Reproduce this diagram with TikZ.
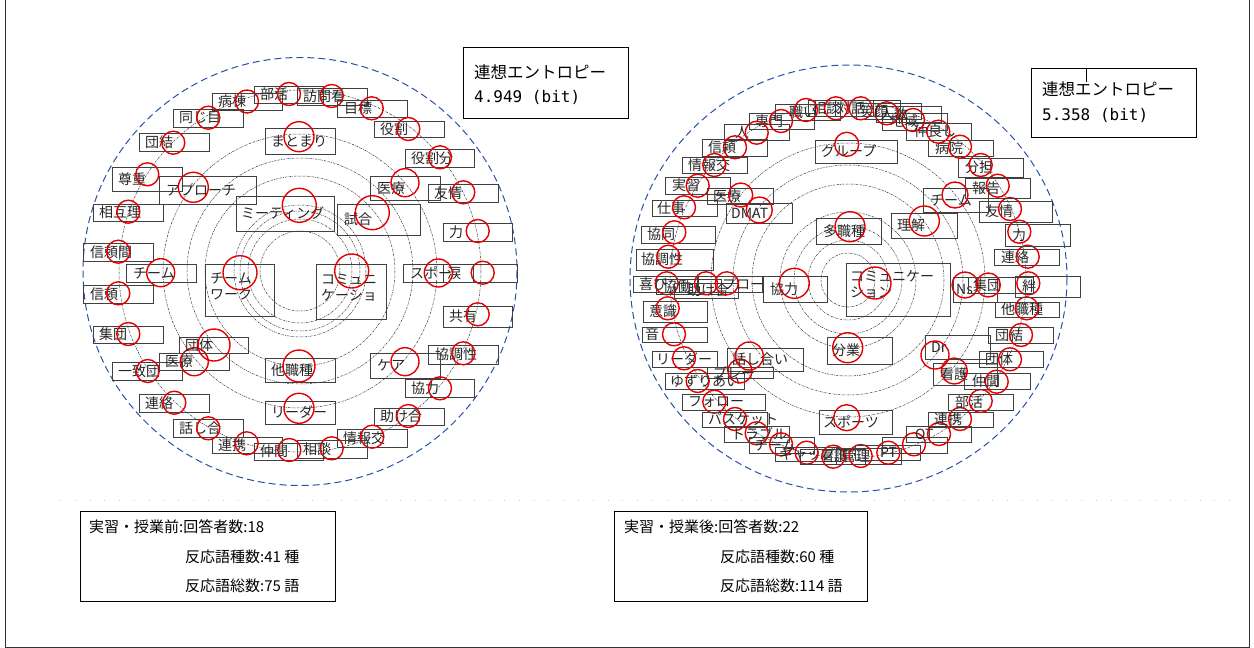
\documentclass[tikz,border=0pt]{standalone}
\usepackage{fontspec}
\setmainfont{Noto Sans CJK JP}
\newfontfamily\cjk{Noto Sans CJK JP}
\newfontfamily\monofam{DejaVu Sans Mono}
\definecolor{ringblue}{RGB}{40,80,170}
\tikzset{
 wbox/.style={draw=black!75, line width=0.7pt},
 wtext/.style={inner sep=0pt, anchor=west, text=black!85, font=\fontsize{14}{16}\selectfont},
 rc/.style={draw=red!90!black, line width=1.4pt},
 ring/.style={draw=black!80, line width=0.5pt, dash pattern=on 2pt off 1pt on 0.6pt off 1pt},
 outerring/.style={draw=ringblue, line width=1pt, dash pattern=on 7pt off 4pt},
 infobox/.style={draw=black, line width=0.8pt},
 infotext/.style={inner sep=0pt, anchor=west, font=\fontsize{15}{17}\selectfont},
}
\def\crad{11.5}
% name x1 y1 x2 y2 textx text cx cy
\newcommand\wrd[9]{%
 \draw[wbox] (#2,#3) rectangle (#4,#5);
 \node[wtext] (#1) at ({#6},{(#3+#5)/2}) {#7};
 \draw[rc] (#8,#9) circle[radius=\crad];}
\newcommand\wrdn[7]{%
 \draw[wbox] (#2,#3) rectangle (#4,#5);
 \node[wtext] (#1) at ({#6},{(#3+#5)/2}) {#7};}
\begin{document}
\begin{tikzpicture}[x=1pt,y=-1pt]
\useasboundingbox (0,0) rectangle (1254,648);
\draw[black!80, line width=0.8pt] (5,0) -- (5,647) -- (1249,647) -- (1249,0);
\draw[gray!45, line width=0.6pt, dash pattern=on 0.8pt off 14pt] (60,500) -- (1240,500);

% ---------- left diagram ----------
\foreach \r in {40,52,60,66,95,113,137,181} \draw[ring] (300,271) circle[radius=\r];
\draw[outerring] (300,271.5) ellipse[x radius=217, y radius=214];

\wrd{l1}{212}{93}{282}{110}{218}{病棟}{247}{101.5}
\wrd{l2}{254}{86}{323}{103}{260}{部活}{289}{94}
\wrd{l3}{297}{88}{367}{105}{303}{訪問看}{331.7}{96}
\wrd{l4}{337}{100}{407}{117}{344}{目標}{371.7}{108.3}
\wrd{l5}{374}{121}{444}{137}{380}{役割}{408.3}{129}
\wrd{l6}{405}{149}{474}{167}{411}{役割分}{440}{157.3}
\wrd{l7}{428}{184}{498}{202}{434}{友情}{463.3}{192.3}
\wrd{l8}{443}{223}{512}{241}{449}{力}{477.7}{231}
\wrd{l10}{443}{264}{517}{282}{447}{涙}{482.7}{272.7}
\wrd{l11}{443}{306}{512}{327}{449}{共有}{477.7}{314.3}
\wrd{l12}{428}{345}{498}{364}{435}{協調性}{463.3}{353.3}
\wrd{l13}{405}{379}{474}{397}{411}{協力}{440}{388.3}
\wrd{l14}{374}{408}{444}{425}{380}{助け合}{408.3}{416}
\wrd{l15}{337}{429}{407}{447}{343}{情報交}{372.3}{436.7}
\wrd{l16}{297}{440}{367}{458}{303}{相談}{331.7}{448.3}
\wrd{l17}{254}{443}{323}{460}{260}{仲間}{289.3}{450}
\wrd{l18}{212}{437}{282}{453}{218}{連携}{246.7}{443.3}
\wrd{l19}{173}{419}{243}{437}{179}{話し合}{208.3}{428.3}
\wrd{l20}{139}{394}{209}{412}{145}{連絡}{174.3}{402.7}
\wrd{l21}{112}{362}{182}{380}{118}{一致団}{147.7}{371}
\wrd{l22}{93}{326}{163}{343}{99}{集団}{128.3}{334}
\wrd{l23}{83}{285}{153}{303}{90}{信頼}{118.3}{293.3}
\wrd{l24}{83}{243}{153}{261}{90}{信頼間}{118.3}{251.7}
\wrd{l25}{93}{204}{163}{221}{99}{相互理}{128.3}{211.7}
\wrd{l26}{112}{167}{182}{191}{118}{尊重}{147.3}{174.3}
\wrd{l27}{139}{133}{209}{151}{145}{団結}{173.3}{142.7}
\wrd{l28}{173}{109}{243}{127}{179}{同じ目}{208.3}{117.7}
\def\crad{14}
\wrd{l9}{403}{264}{473}{282}{410}{スポー}{438.3}{273}
\wrd{l32}{370}{176}{440}{200}{377}{医療}{405}{182.7}
\wrd{l34}{126}{264}{196}{282}{133}{チーム}{160.7}{272.7}
\wrd{l38}{159}{353}{229}{370}{165}{医療}{194.3}{361.7}
\wrd{l41}{370}{353}{440}{378}{377}{ケア}{405}{361.7}
\def\crad{15}
\wrd{l29}{265}{128}{335}{154}{271}{まとまり}{299}{136.7}
\wrd{l30}{159}{176}{256}{204}{166}{アプローチ}{193.3}{187.3}
\wrd{l40}{265}{401}{335}{424}{271}{リーダー}{299}{408.3}
\def\crad{16}
\wrd{l37}{179}{337}{248}{353}{185}{団体}{214}{345}
\wrd{l39}{265}{358}{335}{382}{271}{他職種}{299}{366}
\def\crad{17}
\wrd{l31}{236}{196}{334}{231}{241}{ミーティング}{299.3}{205.3}
\wrd{l33}{337}{204}{420}{235}{344}{試合}{372.3}{212.7}
\draw[wbox] (205,264) rectangle (274,316);
\node[wtext, align=left] (l35) at (210,286) {チーム\\ワーク};
\draw[rc] (240,272.7) circle[radius=17];
\draw[wbox] (316,264) rectangle (386,319);
\node[wtext, align=left] (l36) at (321,288) {コミュニ\\ケーショ};
\draw[rc] (351.7,271) circle[radius=17];

% ---------- right diagram ----------
\foreach \r in {27,40,54,68,96,115,137,178} \draw[ring] (848,280) circle[radius=\r];
\draw[outerring] (848.5,278.5) ellipse[x radius=218.5, y radius=213.5];

\def\crad{11.5}
\wrd{r1}{749}{113}{814}{129}{755}{専門}{781}{121}
\wrd{r2}{724}{124}{789}{140}{735}{人}{756.7}{132.7}
\wrd{r3}{702}{139}{767}{156}{708}{信頼}{735}{147.3}
\wrd{r4}{682}{157}{747}{173}{688}{情報交}{714.3}{165}
\wrd{r5}{665}{177}{730}{194}{672}{実習}{697.7}{185.7}
\wrd{r6}{652}{200}{717}{216}{657}{仕事}{684}{207.3}
\wrd{r7}{641}{226}{715}{243}{647}{協同}{674.3}{232.3}
\wrd{r8}{636}{249}{713}{270}{641}{協調性}{668.3}{256.7}
\wrd{r9}{633}{276}{698}{292}{639}{喜び}{666.7}{283.3}
\wrdn{r10}{656}{279}{721}{294}{663}{協働}
\wrd{r11}{674}{283}{738}{298}{687}{助け合}{706}{283.3}
\wrd{r12}{697}{276}{762}{292}{722}{プロー}{726.7}{283.3}
\wrd{r13}{643}{301}{707}{322}{649}{意識}{667.7}{308.3}
\wrd{r14}{642}{327}{707}{342}{645}{音}{674}{334.3}
\wrd{r15}{652}{351}{717}{367}{656}{リーダー}{684}{358.3}
\wrd{r16}{665}{373}{744}{389}{670}{ゆずりあい}{697.7}{381}
\wrd{r17}{682}{394}{765}{410}{688}{フォロー}{714.3}{401.7}
\wrd{r18}{702}{412}{767}{427}{708}{バスケット}{735}{419}
\wrd{r19}{724}{426}{789}{442}{731}{トラブル}{756.7}{433.3}
\wrd{r20}{749}{437}{814}{453}{754}{チーム}{781}{444.3}
\wrd{r21}{775}{447}{840}{461}{779}{ギャップ}{806.7}{452.7}
\wrd{r22}{800}{449}{865}{464}{820}{看護}{833.3}{456.7}
\wrd{r23}{836}{448}{901}{464}{842}{管理}{860.7}{456}
\wrd{r24}{855}{445}{920}{460}{880}{PT}{888.3}{452.7}
\draw[wbox] (882,437) rectangle (947,453);
\draw[rc] (914,444.3) circle[radius=\crad];
\wrd{r26}{906}{426}{971}{442}{915}{OT}{939}{434}
\wrd{r27}{928}{412}{993}{427}{934}{連携}{960}{419}
\wrd{r28}{948}{394}{1013}{410}{955}{部活}{980.7}{401}
\wrd{r29}{964}{373}{1030}{389}{972}{仲間}{996.7}{381.7}
\wrd{r30}{979}{351}{1043}{367}{985}{団体}{1010}{359.3}
\wrd{r31}{988}{327}{1053}{343}{995}{団結}{1021}{335}
\wrd{r32}{995}{302}{1059}{317}{1001}{他職種}{1026.7}{308.3}
\wrd{r33}{1015}{276}{1080}{297}{1022}{絆}{1028.3}{283.3}
\wrd{r34}{994}{249}{1059}{265}{1001}{連絡}{1027.7}{256.7}
\wrd{r35}{1005}{224}{1070}{246}{1012}{力}{1019.3}{231.7}
\wrd{r36}{979}{201}{1052}{222}{985}{友情}{1010}{209}
\wrd{r37}{965}{178}{1030}{198}{972}{報告}{997.7}{185.7}
\wrd{r38}{958}{158}{1023}{177}{965}{分担}{980.7}{165}
\wrd{r39}{928}{140}{993}{156}{935}{病院}{960}{146.7}
\wrd{r40}{906}{123}{971}{140}{914}{仲良し}{938.3}{131.7}
\wrd{r41}{882}{113}{947}{130}{890}{地域}{913}{120}
\wrd{r42}{876}{106}{941}{122}{880}{人数}{886.7}{113.3}
\wrdn{r43}{856}{103}{921}{119}{860}{笑顔}
\wrd{r44}{835}{100}{900}{116}{837}{対話}{860.7}{108.3}
\wrd{r45}{808}{100}{873}{116}{812}{相談}{836}{108.3}
\wrd{r46}{775}{104}{840}{120}{789}{職い}{806}{110}
\def\crad{12}
\wrd{r47}{815}{140}{897}{163}{821}{グループ}{846.7}{144.3}
\wrd{r48}{707}{188}{773}{204}{713}{医療}{740.7}{195}
\wrd{r57}{707}{367}{773}{378}{713}{プレー}{740}{371}
\def\crad{13}
\wrd{r49}{726}{203}{792}{223}{731}{DMAT}{759.3}{210}
\wrd{r52}{923}{188}{988}{212}{930}{チーム}{955}{195}
\wrd{r59}{933}{363}{997}{385}{940}{看護}{954.3}{371}
\wrd{r60}{819}{410}{892}{434}{823}{スポーツ}{846.7}{417.7}
\wrd{r61}{953}{277}{997}{302}{956}{Ns}{965}{285}
\def\crad{12}
\wrd{r62}{968}{277}{1033}{293}{973}{集団}{988.3}{285}
\def\crad{14}
\wrd{r56}{727}{348}{803}{371}{732}{話し合い}{749.3}{356}
\wrd{r58}{925}{335}{990}{359}{931}{Dr}{935}{355}
\def\crad{15}
\wrd{r50}{816}{218}{881}{244}{823}{多職種}{850}{226.7}
\wrd{r51}{891}{213}{957}{238}{897}{理解}{924.3}{221}
\wrd{r53}{763}{276}{827}{302}{770}{協力}{794.3}{283.3}
\wrd{r55}{827}{337}{892}{364}{832}{分業}{847.7}{347.7}
\draw[wbox] (846,263) rectangle (950,316);
\node[wtext, align=left] (r54) at (850,284) {コミュニケー\\ション};
\draw[rc] (875,283) circle[radius=16];

% ---------- info boxes ----------
\draw[infobox] (463,47) rectangle (628,118);
\node[infotext, font=\fontsize{16.5}{18}\selectfont] (e1) at (474,72) {連想エントロピー};
\node[infotext, font=\monofam\fontsize{16}{18}\selectfont] (e2) at (474,97) {4.949 (bit)};
\draw[infobox] (1031,68) rectangle (1196,137);
\draw[black, line width=0.6pt] (1086,68) -- (1086,82);
\node[infotext, font=\fontsize{16.5}{18}\selectfont] (e3) at (1042,89) {連想エントロピー};
\node[infotext, font=\monofam\fontsize{16}{18}\selectfont] (e4) at (1042,115) {5.358 (bit)};

\draw[infobox] (80,511) rectangle (335,601);
\node[infotext] (b1) at (89,527) {実習・授業前:回答者数:18};
\node[infotext] (b2) at (185,557) {反応語種数:41 種};
\node[infotext] (b3) at (185,586) {反応語総数:75 語};
\draw[infobox] (614,511) rectangle (867,601);
\node[infotext] (b4) at (624,527) {実習・授業後:回答者数:22};
\node[infotext] (b5) at (720,557) {反応語種数:60 種};
\node[infotext] (b6) at (720,586) {反応語総数:114 語};
\end{tikzpicture}
\end{document}
